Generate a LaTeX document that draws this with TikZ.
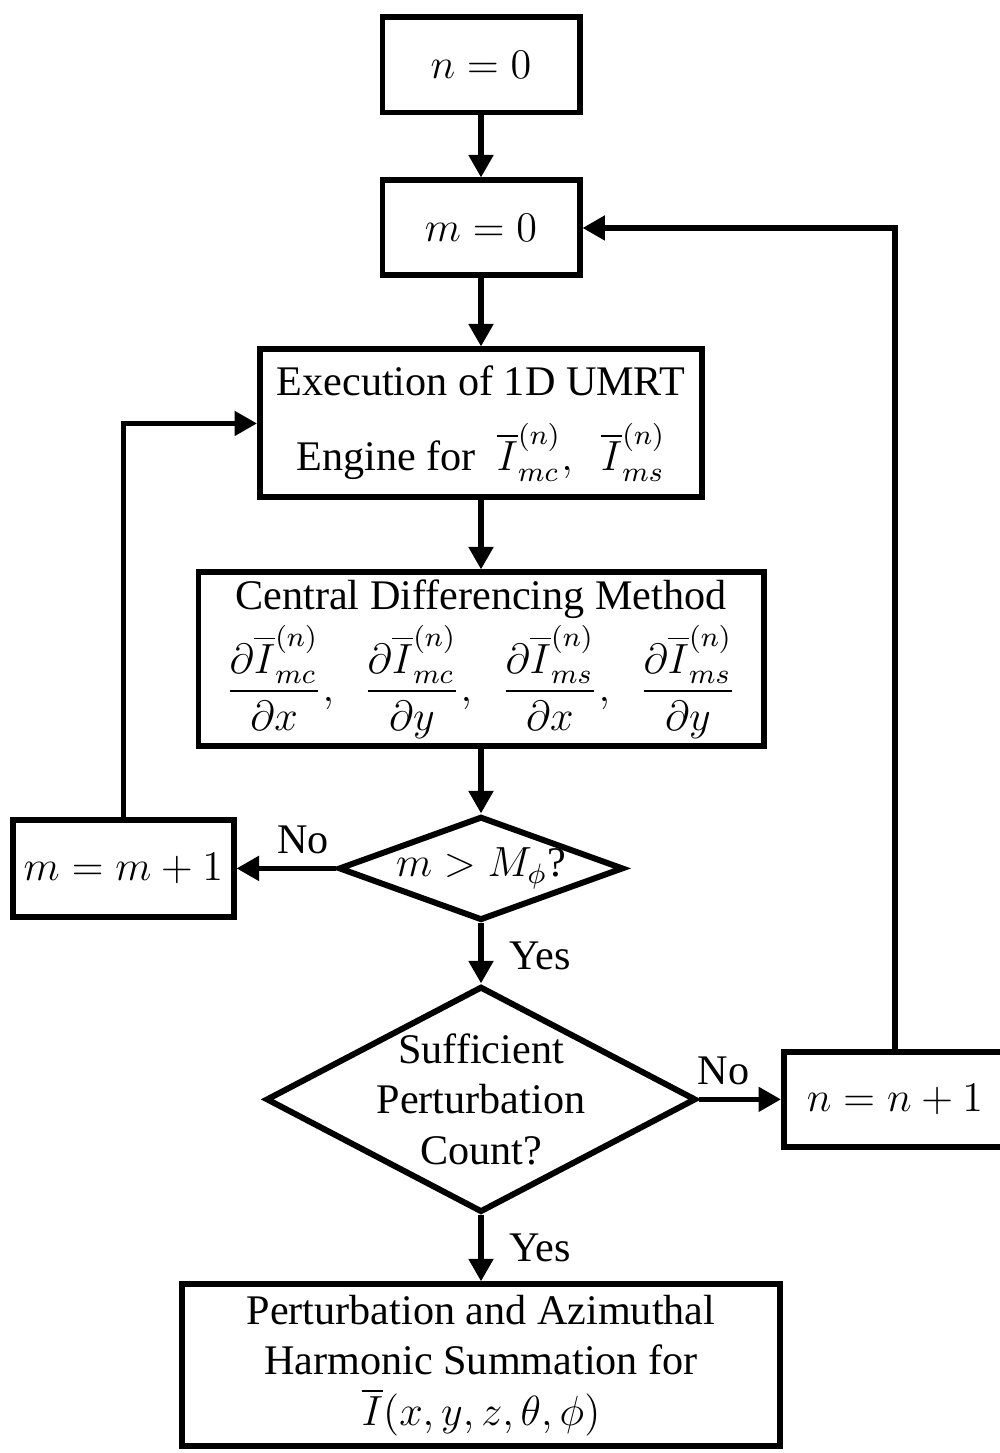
\documentclass[tikz,border=0pt]{standalone}
\usepackage{amsmath,fontspec}
\setmainfont{Liberation Serif}
\usetikzlibrary{arrows.meta,positioning,shapes.geometric}

\begin{document}
\begin{tikzpicture}[font=\fontsize{12}{14.4}\selectfont,
  box/.style={draw, line width=1.7pt, align=center, inner sep=3pt},
  decision/.style={draw, diamond, line width=1.7pt, inner sep=0pt},
  flow/.style={line width=1.5pt, -{Triangle[length=6.4pt,width=6.8pt]}}]
  \useasboundingbox (0,0) rectangle (9.99,-14.53);
  \node[box, minimum width=1.97cm, minimum height=0.95cm] (nzero) at (4.81,-0.65) {$n=0$};
  \node[box, below=0.62cm of nzero, minimum width=1.97cm, minimum height=0.95cm] (mzero) {$m=0$};
  \node[box, below=0.68cm of mzero, minimum width=4.42cm, minimum height=1.48cm] (umrt) {Execution of 1D UMRT\\[7pt]
     Engine for\ \ $\overline{I}^{(n)}_{mc},\ \ \overline{I}^{(n)}_{ms}$};
  \node[box, below=0.69cm of umrt, minimum width=5.65cm, minimum height=1.74cm, inner sep=1pt] (cdm) {Central Differencing Method\\[1pt]
     $\dfrac{\partial\overline{I}^{(n)}_{mc}}{\partial x},\ \;\dfrac{\partial\overline{I}^{(n)}_{mc}}{\partial y},\ \;
      \dfrac{\partial\overline{I}^{(n)}_{ms}}{\partial x},\ \;\dfrac{\partial\overline{I}^{(n)}_{ms}}{\partial y}$};
  \node[decision, below=0.64cm of cdm, minimum width=2.85cm, minimum height=1.04cm] (mcheck) {};
  \node (mchecktxt) at (mcheck) {$m>M_\phi$?};
  \node[decision, below=0.60cm of mcheck, minimum width=4.30cm, minimum height=2.26cm] (count) {};
  \node[align=center] (counttxt) at (count) {Sufficient\\Perturbation\\Count?};
  \node[box, below=0.66cm of count, minimum width=5.98cm, minimum height=1.62cm] (sum) {Perturbation and Azimuthal\\
     Harmonic Summation for\\ $\overline{I}(x,y,z,\theta,\phi)$};
  \node[box, left=0.99cm of mcheck, minimum width=2.18cm, minimum height=0.97cm] (mplus) {$m=m+1$};
  \node[box, right=0.82cm of count, minimum width=2.22cm, minimum height=0.95cm] (nplus) {$n=n+1$};
  \draw[flow] (nzero) -- (mzero);
  \draw[flow] (mzero) -- (umrt);
  \draw[flow] (umrt) -- (cdm);
  \draw[flow] (cdm) -- (mcheck);
  \draw[flow] (mcheck) -- node[above, pos=0.33] (mno) {No} (mplus);
  \draw[flow] (mcheck) -- node[right=4pt, pos=0.55] (myes) {Yes} (count);
  \draw[flow] (count) -- node[above, pos=0.3] (cno) {No} (nplus);
  \draw[flow] (count) -- node[right=4pt, pos=0.5] (cyes) {Yes} (sum);
  \draw[flow] (mplus.north) |- (umrt.west);
  \draw[flow] (nplus.north) |- (mzero.east);
\end{tikzpicture}
\end{document}
